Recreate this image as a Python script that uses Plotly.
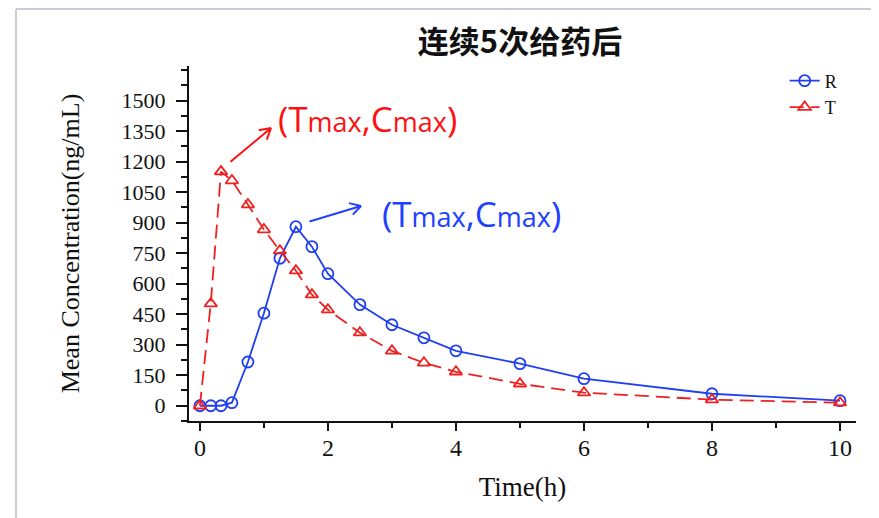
import plotly.graph_objects as go

time_h = [0, 0.17, 0.33, 0.5, 0.75, 1, 1.25, 1.5, 1.75, 2, 2.5, 3, 3.5, 4, 5, 6, 8, 10]
conc_R = [0, 0, 0, 15, 215, 455, 725, 880, 782, 649, 497, 398, 334, 270, 207, 133, 59, 25]
conc_T = [0, 502, 1151, 1107, 989, 866, 762, 664, 546, 472, 359, 270, 211, 167, 108, 64, 30, 15]
y_ticks = [0, 150, 300, 450, 600, 750, 900, 1050, 1200, 1350, 1500]
x_ticks = [0, 2, 4, 6, 8, 10]

BLUE = "#1f3ff0"
RED = "#ee2020"
SERIF = "Liberation Serif, Times New Roman, serif"

fig = go.Figure()
fig.add_trace(go.Scatter(
    x=time_h, y=conc_R, name="R", mode="lines+markers",
    line=dict(color=BLUE, width=1.8),
    marker=dict(symbol="circle-open", size=11, color=BLUE, line=dict(width=1.8)),
))
fig.add_trace(go.Scatter(
    x=time_h, y=conc_T, name="T", mode="lines+markers",
    line=dict(color=RED, width=1.8, dash="14px,7px"),
    marker=dict(symbol="triangle-up-open", size=11, color=RED, line=dict(width=1.8)),
))

small = '<span style="font-size:27px">max</span>'
label = f"(T{small},C{small})"

annos = [
    dict(x=2.611, y=1414, text=label, font=dict(color="#ff1010", size=35, family="Open Sans")),
    dict(x=4.236, y=947, text=label, font=dict(color="#2040ff", size=35, family="Open Sans")),
]
for a in annos:
    a.update(xref="x", yref="y", showarrow=False, xanchor="center", yanchor="middle")

def arrow(x, y, ax, ay, color, wings):
    out = [dict(x=x, y=y, ax=ax, ay=ay, xref="x", yref="y", axref="pixel", ayref="pixel",
                text="", showarrow=True, arrowhead=0, arrowwidth=2, arrowcolor=color)]
    for wx, wy in wings:
        out.append(dict(x=x, y=y, ax=wx, ay=wy, xref="x", yref="y", text="", showarrow=True,
                        arrowhead=0, arrowwidth=2, arrowcolor=color))
    return out

annos += arrow(1.111, 1365, -42, 35, "#ff1010", [(-13.8, 2.4), (-4.8, 13.1)])
annos += arrow(2.517, 982, -53, 16, "#2040ff", [(-13.6, -3.2), (-9.6, 10.2)])

fig.update_layout(
    width=879, height=518,
    margin=dict(l=181, r=31, t=58, b=105),
    paper_bgcolor="white", plot_bgcolor="white",
    title=dict(text="<b>连续5次给药后</b>", x=0.5825, xanchor="center", y=0.934, yanchor="middle",
               font=dict(family="Noto Sans CJK SC", size=31, color="#111")),
    showlegend=True,
    legend=dict(x=0.98, y=1.01, xanchor="right", yanchor="top", bgcolor="rgba(0,0,0,0)",
                font=dict(family=SERIF, size=18, color="#111"), tracegroupgap=0, itemwidth=30),
    annotations=annos,
    shapes=[
        dict(type="line", xref="paper", yref="paper", x0=-0.2594, x1=1.06, y0=1.1606, y1=1.1606,
             line=dict(color="#c8ccd8", width=2)),
        dict(type="line", xref="paper", yref="paper", x0=-0.2594, x1=-0.2594, y0=1.1606, y1=-0.3,
             line=dict(color="#c8ccd8", width=2)),
    ],
)
fig.update_xaxes(
    range=[-0.17, 10.25], tickvals=x_ticks, showgrid=False, zeroline=False,
    showline=True, linecolor="#111", linewidth=2, ticks="outside", ticklen=8, tickwidth=2, tickcolor="#111",
    minor=dict(dtick=1, tick0=0, ticks="outside", ticklen=5, tickwidth=2, tickcolor="#111", showgrid=False),
    tickfont=dict(family=SERIF, size=24, color="#111"), ticklabelstandoff=-4,
    title=dict(text="Time(h)", font=dict(family=SERIF, size=27, color="#111"), standoff=17),
)
fig.update_yaxes(
    range=[-75, 1670], tickvals=y_ticks, showgrid=False, zeroline=False,
    showline=True, linecolor="#111", linewidth=2, ticks="outside", ticklen=11, tickwidth=2, tickcolor="#111",
    minor=dict(dtick=75, tick0=0, ticks="outside", ticklen=6, tickwidth=2, tickcolor="#111", showgrid=False),
    tickfont=dict(family=SERIF, size=22, color="#111"), ticklabelstandoff=6,
    title=dict(text="Mean Concentration(ng/mL)", font=dict(family=SERIF, size=26, color="#111"), standoff=34),
)

fig.write_html("out.html")
